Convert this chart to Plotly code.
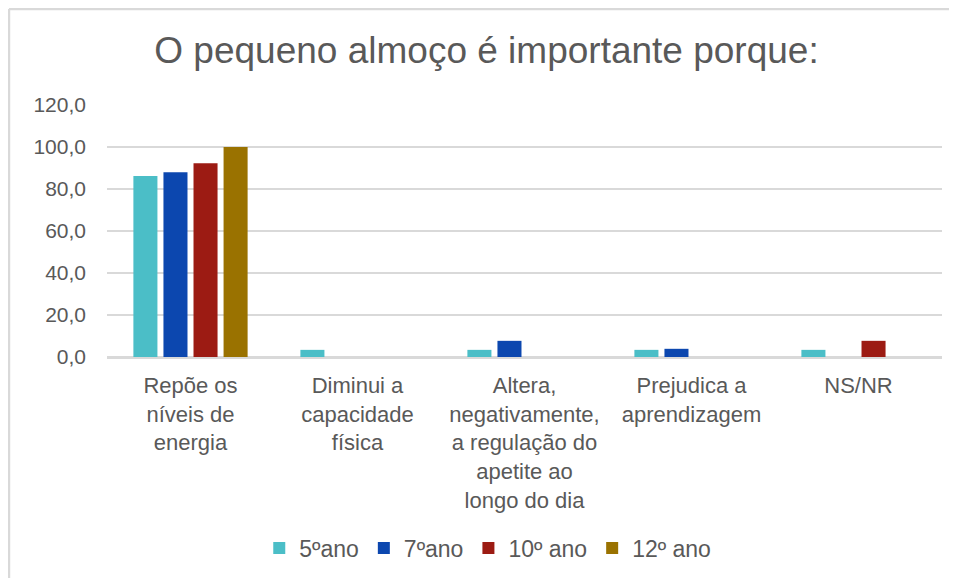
import plotly.graph_objects as go

categories = [
    "Repõe os<br>níveis de<br>energia",
    "Diminui a<br>capacidade<br>física",
    "Altera,<br>negativamente,<br>a regulação do<br>apetite ao<br>longo do dia",
    "Prejudica a<br>aprendizagem",
    "NS/NR",
]
series_names = ["5ºano", "7ºano", "10º ano", "12º ano"]
v5 = [86.2, 3.4, 3.4, 3.4, 3.4]
v7 = [88.0, 0.0, 7.7, 3.9, 0.0]
v10 = [92.3, 0.0, 0.0, 0.0, 7.7]
v12 = [100.0, 0.0, 0.0, 0.0, 0.0]
colors = ["#4BBEC7", "#0C47AF", "#9C1B13", "#9A7200"]
y_ticks = [0, 20, 40, 60, 80, 100, 120]

text_color = "#595959"
font_family = "Liberation Sans, Arial, sans-serif"

fig = go.Figure()
for name, vals, col in zip(series_names, [v5, v7, v10, v12], colors):
    fig.add_trace(go.Bar(
        x=categories, y=vals, name=name,
        marker=dict(color=col, line=dict(width=0)),
    ))

border = "#D9D9D9"
fig.update_layout(
    width=957, height=578,
    paper_bgcolor="white", plot_bgcolor="white",
    margin=dict(l=99, r=23, t=97, b=229),
    separators=",.",
    barmode="group", bargap=0.28, bargroupgap=0.2,
    title=dict(
        text="O pequeno almoço é importante porque:",
        x=0.5, xanchor="center", y=0.927, yanchor="middle",
        font=dict(family=font_family, size=37, color=text_color),
    ),
    font=dict(family=font_family, color=text_color),
    showlegend=True,
    legend=dict(
        orientation="h", x=0.456, xanchor="center", y=-0.758, yanchor="middle",
        font=dict(family=font_family, size=23, color=text_color),
        itemwidth=30, traceorder="normal",
    ),
    xaxis=dict(
        showgrid=False, showline=True, linecolor=border, linewidth=1.5,
        tickfont=dict(family=font_family, size=22, color=text_color),
        ticks="", ticklabelstandoff=8,
    ),
    yaxis=dict(
        range=[0, 120], tickvals=y_ticks, tickformat=".1f",
        showgrid=True, gridcolor=border, gridwidth=1.5,
        zeroline=True, zerolinecolor=border, zerolinewidth=1.5,
        tickfont=dict(family=font_family, size=21, color=text_color),
        ticks="", ticklabelstandoff=20,
    ),
    shapes=[
        dict(type="line", xref="paper", yref="paper",
             x0=-0.1174, x1=1.03, y0=1.381, y1=1.381,
             line=dict(color=border, width=2.5)),
        dict(type="line", xref="paper", yref="paper",
             x0=-0.1174, x1=-0.1174, y0=1.381, y1=-0.92,
             line=dict(color=border, width=2.5)),
    ],
)

fig.write_html("out.html")
